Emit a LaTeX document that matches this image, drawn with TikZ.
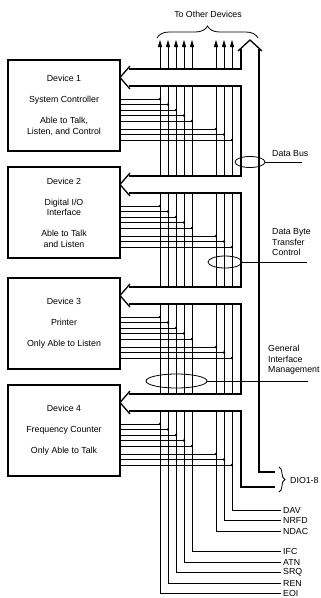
\documentclass[tikz,border=0pt]{standalone}
\usepackage{fontspec}
\setmainfont{Liberation Sans}
\usetikzlibrary{arrows.meta,shapes.geometric,decorations.pathreplacing}
\tikzset{
  devbox/.style={draw, line width=1.2pt, minimum width=112pt, minimum height=91pt, align=center, inner sep=0pt},
  sigline/.style={line width=0.8pt},
  sigarrow/.style={line width=0.8pt, -{Triangle[length=7pt,width=4pt]}},
  jdot/.style={circle, fill, inner sep=0pt, minimum size=2.6pt},
  siglabel/.style={anchor=west, inner sep=2pt},
  pipe/.style={line width=1.3pt},
  ring/.style={draw, ellipse, line width=0.8pt, inner sep=0pt},
}
\begin{document}
\begin{tikzpicture}[x=1pt, y=-1pt, font=\fontsize{8.8}{10.5}\selectfont]
    \useasboundingbox (0,0) rectangle (321,598);
    % Signal lines: up to the other devices, down to their names
    \foreach \x/\y/\lab/\nm in {160/593.5/EOI/eoi, 168/583/REN/ren, 176/572.5/SRQ/srq, 184/562/ATN/atn,
        192/551.5/IFC/ifc, 216/531/NDAC/ndac, 224/520.5/NRFD/nrfd, 232/510/DAV/dav} {
        \node[siglabel] (\nm) at (281,\y) {\lab};
        \coordinate (\nm-top) at (\x,69);
        \draw[sigline] (\nm-top) |- (\nm.west);
        \draw[sigarrow] (\nm-top) -- ++(0,-29);
    }
    % Devices
    \node[devbox] (dev1) at (64,105.5) {Device 1\\[10.5pt] System Controller\\[10.5pt] Able to Talk,\\ Listen, and Control};
    \node[devbox] (dev2) at (64,212.5) {Device 2\\[10.5pt] Digital I/O\\ Interface\\[10.5pt] Able to Talk\\ and Listen};
    \node[devbox] (dev3) at (64,323.5) {Device 3\\[10.5pt] Printer\\[10.5pt] Only Able to Listen};
    \node[devbox] (dev4) at (64,430.5) {Device 4\\[10.5pt] Frequency Counter\\[10.5pt] Only Able to Talk};
    % Taps from each device onto the lines
    \foreach \k/\T in {1/60, 2/167, 3/278, 4/385} {
        \foreach \x [count=\i from 0] in {160,168,176,184,192} {
            \pgfmathsetmacro\yy{\T+39+5.5*\i}
            \draw[sigline] (dev\k.east |- 0,\yy) -- (\x,\yy) node[jdot] {};
        }
        \foreach \x [count=\i from 0] in {216,224,232} {
            \pgfmathsetmacro\yy{\T+69+5.5*\i}
            \draw[sigline] (dev\k.east |- 0,\yy) -- (\x,\yy) node[jdot] {};
        }
        \fill[white] (131,\T+9) rectangle (240,\T+26);
        \draw[pipe] (130,\T+6) -- (120,\T+17.5) -- (130,\T+29);
    }
    % Data bus
    \draw[pipe] (241,49) -- (241,69) -- (129,69);
    \draw[pipe] (129,86) -- (241,86) -- (241,176) -- (129,176);
    \draw[pipe] (129,193) -- (241,193) -- (241,287) -- (129,287);
    \draw[pipe] (129,304) -- (241,304) -- (241,394) -- (129,394);
    \draw[pipe] (129,411) -- (241,411) -- (241,487) -- (275,487);
    \draw[pipe] (259,49) -- (259,472) -- (275,472);
    \draw[pipe] (238,51) -- (250,40) -- (262,51);
    % Groups
    \node[ring, minimum width=30pt, minimum height=11pt] (busring) at (250,162) {};
    \coordinate (busend) at (302,162);
    \draw[sigline] (busring.east) -- (busend);
    \node[anchor=west, inner sep=1pt] (buslbl) at (271,154) {Data Bus};
    \node[ring, minimum width=34pt, minimum height=12pt] (hsring) at (225,262) {};
    \coordinate (hsend) at (307,262);
    \draw[sigline] (hsring.east) -- (hsend);
    \node[anchor=west, align=left, inner sep=1pt] (hslbl) at (271,242.5) {Data Byte\\Transfer\\Control};
    \node[ring, minimum width=61pt, minimum height=14pt] (mgring) at (176.5,381) {};
    \coordinate (mgend) at (308,381);
    \draw[sigline] (mgring.east) -- (mgend);
    \node[anchor=west, align=left, inner sep=1pt] (mglbl) at (267,360) {General\\Interface\\Management};
    % Braces
    \draw[sigline, decorate, decoration={brace, amplitude=6pt}] (279,467) -- (279,492);
    \node[anchor=west, inner sep=1pt] (dio) at (289,480) {DIO1-8};
    \draw[sigline, decorate, decoration={brace, amplitude=12pt}] (157,38) -- (258,38);
    \node (others) at (208,14) {To Other Devices};
\end{tikzpicture}
\end{document}
